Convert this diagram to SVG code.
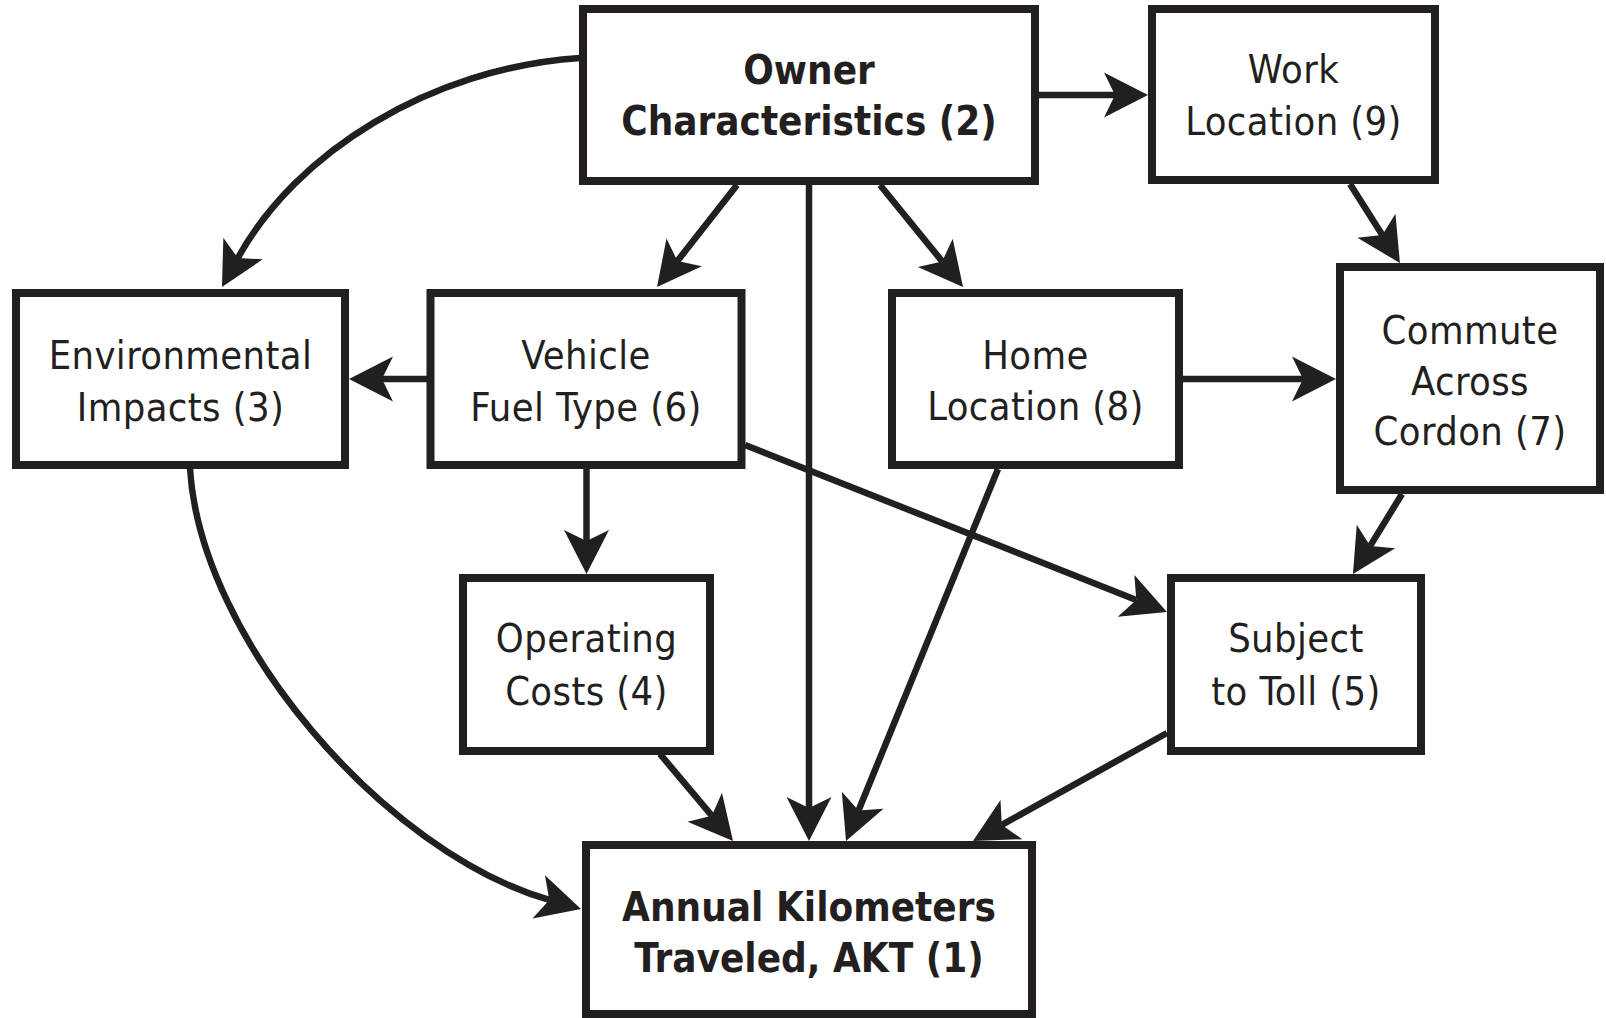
<svg xmlns="http://www.w3.org/2000/svg" width="1606" height="1018" viewBox="0 0 1606 1018">
  <style>
    .box { fill: #ffffff; stroke: #231f20; stroke-width: 8; }
    .edge { fill: none; stroke: #231f20; stroke-width: 6.5; stroke-linecap: butt; }
    text { font-family: "DejaVu Sans Condensed", "DejaVu Sans", sans-serif; font-stretch: condensed; fill: #231f20; text-anchor: middle; }
    .reg { font-size: 39.5px; letter-spacing: 0.4px; }
    .bold { font-size: 40px; font-weight: bold; }
  </style>
  <defs>
    <!-- barbed arrowhead; the reference point is the inner notch, the tip lies 33px ahead -->
    <marker id="arrow" markerUnits="userSpaceOnUse" viewBox="-12 -24 48 48" markerWidth="48" markerHeight="48" refX="0" refY="0" orient="auto" overflow="visible">
      <path d="M33,0 L-11,-22.5 L0,0 L-11,22.5 Z" fill="#231f20"/>
    </marker>
  </defs>

  <rect width="1606" height="1018" fill="#ffffff"/>

  <!-- connectors -->
  <g id="connectors" marker-end="url(#arrow)">
    <path class="edge" d="M1039,95 L1115,95"/>
    <path class="edge" d="M737,185 L677.4,261"/>
    <path class="edge" d="M880,185 L942.2,261.4"/>
    <path class="edge" d="M809,185 L809,808"/>
    <path class="edge" d="M1350,184 L1382.3,235.1"/>
    <path class="edge" d="M427,379 L382,379"/>
    <path class="edge" d="M1183,379 L1303,379"/>
    <path class="edge" d="M586.5,469 L586.5,541"/>
    <path class="edge" d="M745,445 L1136.3,599.9"/>
    <path class="edge" d="M1402,494 L1370.2,545.9"/>
    <path class="edge" d="M660,754 L711.8,815.7"/>
    <path class="edge" d="M998,469 L858.5,810.5"/>
    <path class="edge" d="M1167,733 L1001.8,824.9"/>
    <path class="edge" d="M580,58 C430,68 295.4,152.9 237.8,258.1"/>
    <path class="edge" d="M190,468 C200,640 385.8,853.1 549.3,899.9"/>
  </g>

  <!-- nodes -->
  <g id="owner">
    <rect class="box" x="583" y="9" width="452" height="172"/>
    <text class="bold" x="809" y="84">Owner</text>
    <text class="bold" x="809" y="135">Characteristics (2)</text>
  </g>
  <g id="work">
    <rect class="box" x="1152" y="9" width="283" height="171"/>
    <text class="reg" x="1293.5" y="83">Work</text>
    <text class="reg" x="1293.5" y="135">Location (9)</text>
  </g>
  <g id="environmental">
    <rect class="box" x="16" y="293" width="329" height="172"/>
    <text class="reg" x="180.5" y="369">Environmental</text>
    <text class="reg" x="180.5" y="421">Impacts (3)</text>
  </g>
  <g id="vehicle">
    <rect class="box" x="430.5" y="293" width="311" height="172"/>
    <text class="reg" x="586" y="369">Vehicle</text>
    <text class="reg" x="586" y="421">Fuel Type (6)</text>
  </g>
  <g id="home">
    <rect class="box" x="892" y="293" width="287" height="172"/>
    <text class="reg" x="1035.5" y="369">Home</text>
    <text class="reg" x="1035.5" y="420">Location (8)</text>
  </g>
  <g id="commute">
    <rect class="box" x="1340" y="267" width="260" height="223"/>
    <text class="reg" x="1470" y="344">Commute</text>
    <text class="reg" x="1470" y="394.5">Across</text>
    <text class="reg" x="1470" y="445">Cordon (7)</text>
  </g>
  <g id="operating">
    <rect class="box" x="463" y="578" width="247" height="173"/>
    <text class="reg" x="586.5" y="652">Operating</text>
    <text class="reg" x="586.5" y="705">Costs (4)</text>
  </g>
  <g id="toll">
    <rect class="box" x="1171" y="578" width="250" height="173"/>
    <text class="reg" x="1296" y="652">Subject</text>
    <text class="reg" x="1296" y="705">to Toll (5)</text>
  </g>
  <g id="akt">
    <rect class="box" x="586" y="845" width="446" height="169"/>
    <text class="bold" x="809" y="921">Annual Kilometers</text>
    <text class="bold" x="809" y="972">Traveled, AKT (1)</text>
  </g>
</svg>
